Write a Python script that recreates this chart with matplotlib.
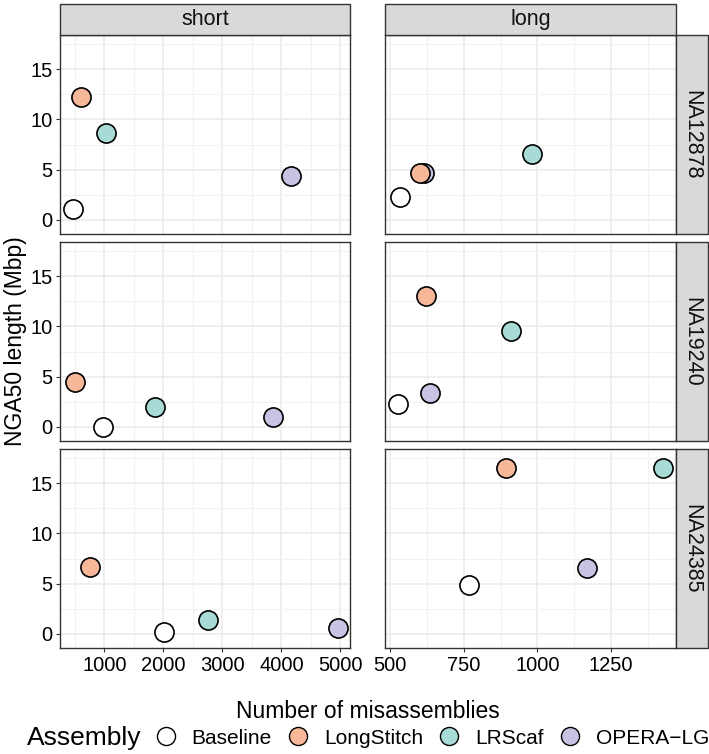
import matplotlib
matplotlib.use("Agg")
import matplotlib.pyplot as plt
from matplotlib.lines import Line2D
from matplotlib.patches import Rectangle

plt.rcParams['font.family'] = ['Liberation Sans', 'DejaVu Sans']

# ---------------- data ----------------
samples = ["NA12878", "NA19240", "NA24385"]
read_types = ["short", "long"]
assemblies = ["Baseline", "LongStitch", "LRScaf", "OPERA\u2212LG"]
fill_colors = ["#FFFFFF", "#F7B799", "#A8DBD5", "#C7C3E3"]

# misassemblies / NGA50 per (sample, read type), order = assemblies
mis_short_NA12878 = [464, 600, 1023, 4159]
ng_short_NA12878 = [1.07, 12.2, 8.63, 4.35]
mis_long_NA12878 = [534, 602, 983, 616]
ng_long_NA12878 = [2.26, 4.68, 6.57, 4.68]

mis_short_NA19240 = [973, 503, 1864, 3864]
ng_short_NA19240 = [0.0, 4.46, 1.97, 0.98]
mis_long_NA19240 = [528, 623, 910, 636]
ng_long_NA19240 = [2.24, 13.03, 9.54, 3.37]

mis_short_NA24385 = [2017, 752, 2763, 4961]
ng_short_NA24385 = [0.16, 6.67, 1.35, 0.62]
mis_long_NA24385 = [768, 894, 1427, 1169]
ng_long_NA24385 = [4.9, 16.55, 16.55, 6.6]

data = {
    ("NA12878", "short"): (mis_short_NA12878, ng_short_NA12878),
    ("NA12878", "long"): (mis_long_NA12878, ng_long_NA12878),
    ("NA19240", "short"): (mis_short_NA19240, ng_short_NA19240),
    ("NA19240", "long"): (mis_long_NA19240, ng_long_NA19240),
    ("NA24385", "short"): (mis_short_NA24385, ng_short_NA24385),
    ("NA24385", "long"): (mis_long_NA24385, ng_long_NA24385),
}

xticks_short = [1000, 2000, 3000, 4000, 5000]
xminor_short = [500, 1500, 2500, 3500, 4500]
xticks_long = [500, 750, 1000, 1250]
xminor_long = [625, 875, 1125, 1375]
yticks = [0, 5, 10, 15]
yminor = [2.5, 7.5, 12.5, 17.5]

# ---------------- layout ----------------
W, H = 709, 754
fig = plt.figure(figsize=(W / 100, H / 100), dpi=100)

def fx(px):
    return px / W

def fy(py):
    return 1 - py / H

col_x = {"short": (60, 350), "long": (385, 676)}
row_y = [(35, 234), (242, 441), (449, 648)]
xlims = {"short": (249, 5164), "long": (483, 1470)}
ylim = (-1.4, 18.4)
edge = "#333333"
draw_order = [0, 3, 2, 1]

for r, sample in enumerate(samples):
    y0, y1 = row_y[r]
    for rt in read_types:
        x0, x1 = col_x[rt]
        ax = fig.add_axes([fx(x0), fy(y1), fx(x1 - x0), (y1 - y0) / H])
        ax.set_xlim(*xlims[rt])
        ax.set_ylim(*ylim)
        if rt == "short":
            ax.set_xticks(xticks_short)
            ax.set_xticks(xminor_short, minor=True)
        else:
            ax.set_xticks(xticks_long)
            ax.set_xticks(xminor_long, minor=True)
        ax.set_yticks(yticks)
        ax.set_yticks(yminor, minor=True)
        ax.grid(which="major", color="#EBEBEB", lw=1.1, zorder=0)
        ax.grid(which="minor", color="#F2F2F2", lw=0.8, zorder=0)
        ax.set_axisbelow(True)
        for s in ax.spines.values():
            s.set_color(edge)
            s.set_linewidth(1.0)
        ax.tick_params(which="minor", length=0)
        ax.tick_params(which="major", length=3, width=0.8, color=edge,
                       labelsize=14.5, labelcolor="black", pad=2.5)
        if rt == "long":
            ax.tick_params(axis="y", labelleft=False, length=0)
        if r < 2:
            ax.tick_params(axis="x", labelbottom=False, length=0)
        xs, ys = data[(sample, rt)]
        for i in draw_order:
            ax.scatter([xs[i]], [ys[i]], s=190, c=fill_colors[i],
                       edgecolors="black", linewidths=1.2, zorder=3)

# top strips
for rt in read_types:
    x0, x1 = col_x[rt]
    fig.patches.append(Rectangle((fx(x0), fy(35)), fx(x1 - x0), (35 - 4) / H,
                                 transform=fig.transFigure, facecolor="#D9D9D9",
                                 edgecolor=edge, lw=1.0))
    fig.text(fx((x0 + x1) / 2), fy(19.5), rt, ha="center", va="center",
             fontsize=15.5, color="#111111")

# right strips
for r, sample in enumerate(samples):
    y0, y1 = row_y[r]
    fig.patches.append(Rectangle((fx(676), fy(y1)), fx(708 - 676), (y1 - y0) / H,
                                 transform=fig.transFigure, facecolor="#D9D9D9",
                                 edgecolor=edge, lw=1.0))
    fig.text(fx(692), fy((y0 + y1) / 2), sample, ha="center", va="center",
             rotation=-90, fontsize=15.5, color="#111111")

# axis titles
fig.text(fx(368), fy(712), "Number of misassemblies", ha="center", va="center",
         fontsize=16.5)
fig.text(fx(16), fy(341), "NGA50 length (Mbp)", ha="center", va="center",
         rotation=90, fontsize=16.5)

# legend
fig.text(fx(27), fy(738), "Assembly", ha="left", va="center", fontsize=19)
handles = [Line2D([], [], marker="o", linestyle="none", markersize=13,
                  markerfacecolor=fill_colors[i], markeredgecolor="black",
                  markeredgewidth=1.0) for i in range(len(assemblies))]
fig.legend(handles, assemblies, loc="center left",
           bbox_to_anchor=(fx(153), fy(738)), ncol=4, frameon=False,
           fontsize=15, handletextpad=0.65, columnspacing=0.65,
           handlelength=1.2, borderaxespad=0, borderpad=0)

fig.savefig("out.png", dpi=100)
